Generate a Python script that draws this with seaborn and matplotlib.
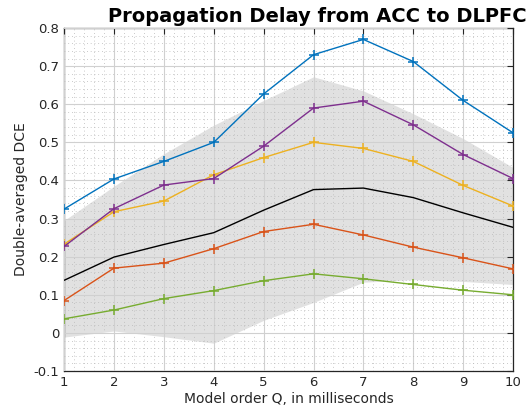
import numpy as np
import pandas as pd
import matplotlib
matplotlib.use("Agg")
import matplotlib.pyplot as plt
import seaborn as sns
from matplotlib.ticker import MultipleLocator

q = [1, 2, 3, 4, 5, 6, 7, 8, 9, 10]

blue = [0.325, 0.404, 0.45, 0.50, 0.627, 0.73, 0.77, 0.712, 0.61, 0.525]
purple = [0.227, 0.326, 0.388, 0.405, 0.49, 0.59, 0.608, 0.546, 0.468, 0.405]
yellow = [0.233, 0.318, 0.346, 0.415, 0.46, 0.50, 0.484, 0.45, 0.387, 0.333]
red = [0.085, 0.170, 0.183, 0.221, 0.266, 0.285, 0.257, 0.225, 0.197, 0.168]
green = [0.037, 0.060, 0.090, 0.111, 0.137, 0.155, 0.142, 0.127, 0.112, 0.100]
mean = [0.138, 0.199, 0.232, 0.263, 0.322, 0.376, 0.380, 0.355, 0.315, 0.277]

band_hi = [0.295, 0.385, 0.47, 0.545, 0.61, 0.672, 0.635, 0.575, 0.51, 0.434]
band_lo = [-0.011, 0.005, -0.01, -0.027, 0.033, 0.08, 0.133, 0.14, 0.135, 0.127]

names = ["s1", "s2", "s3", "s4", "s5"]
colors = ["#0072BD", "#D95319", "#EDB120", "#7E2F8E", "#77AC30"]
series = [blue, red, yellow, purple, green]

df = pd.DataFrame({
    "q": q * len(series),
    "dce": sum(series, []),
    "subj": np.repeat(names, len(q)),
})

sns.set_style("white")
plt.rcParams["font.family"] = ["DejaVu Sans"]
txt = "#262626"

fig = plt.figure(figsize=(5.3, 4.15), dpi=100)
ax = fig.add_axes([0.121, 0.106, 0.847, 0.8265])

ax.fill_between(q, band_lo, band_hi, color="#dadada", alpha=0.8, lw=0, zorder=1)

sns.lineplot(data=df, x="q", y="dce", hue="subj", palette=colors, marker="+",
             markersize=7, markeredgewidth=1.1, linewidth=1, legend=False,
             ax=ax, zorder=3)
# seaborn paints marker edges white; give them the line colour
for ln in ax.get_lines():
    ln.set_markeredgecolor(ln.get_color())
sns.lineplot(x=q, y=mean, color="black", linewidth=1, ax=ax, zorder=3)

ax.set_xlim(1, 10)
ax.set_ylim(-0.1, 0.8)
ax.set_xticks(q)
ax.set_yticks(np.round(np.arange(-0.1, 0.81, 0.1), 1))
ax.set_yticklabels(["-0.1", "0", "0.1", "0.2", "0.3", "0.4", "0.5", "0.6", "0.7", "0.8"])
ax.xaxis.set_minor_locator(MultipleLocator(0.2))
ax.yaxis.set_minor_locator(MultipleLocator(0.02))
ax.grid(which="major", color="#d0d0d0", linewidth=0.8, zorder=2)
ax.grid(which="minor", color="#b8b8b8", linestyle=(0, (1, 3.5)), linewidth=0.6, zorder=2)
ax.set_axisbelow(False)
for ln in ax.get_xgridlines() + ax.get_ygridlines():
    ln.set_zorder(2)

ax.tick_params(which="major", direction="in", length=4, width=0.8, color=txt,
               labelsize=9.5, labelcolor=txt, top=True, right=True)
ax.tick_params(which="minor", length=0)
for s in ax.spines.values():
    s.set_color(txt)
    s.set_linewidth(0.9)

ax.set_xlabel("Model order Q, in milliseconds", fontsize=10, color=txt, labelpad=2)
ax.set_ylabel("Double-averaged DCE", fontsize=10, color=txt, labelpad=4)
ax.set_title("Propagation Delay from ACC to DLPFC", fontsize=14,
             fontweight="bold", color="black", x=0.563, pad=4)

fig.savefig("out.png", dpi=100)
